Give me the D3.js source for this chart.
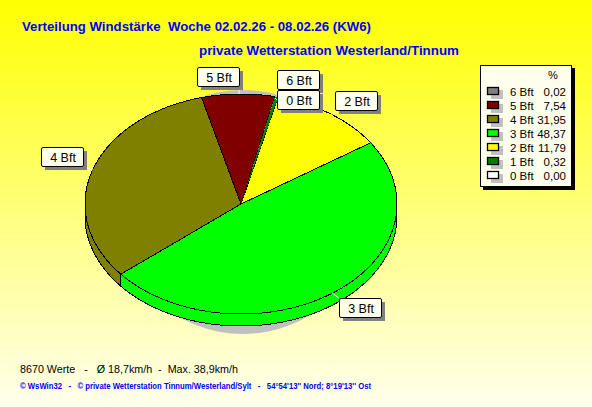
<!DOCTYPE html>
<html><head><meta charset="utf-8">
<script src="https://cdn.jsdelivr.net/npm/d3@7/dist/d3.min.js"></script>
<style>html,body{margin:0;padding:0;background:#fff}svg{display:block}text{font-family:"Liberation Sans",Arial,sans-serif;white-space:pre}</style>
</head><body><svg id="c" width="592" height="407"></svg>
<script>
const categories=["0 Bft","1 Bft","2 Bft","3 Bft","4 Bft","5 Bft","6 Bft"];
const percents=[0.00,0.32,11.79,48.37,31.95,7.54,0.02];
const percentLabels=["0,00","0,32","11,79","48,37","31,95","7,54","0,02"];
const colors=["#ffffff","#008000","#ffff00","#00ff00","#808000","#800000","#808080"];
const titleText="Verteilung Windstärke  Woche 02.02.26 - 08.02.26 (KW6)";
const subtitleText="private Wetterstation Westerland/Tinnum";
const statsText="8670 Werte   -   Ø 18,7km/h  -  Max. 38,9km/h";
const creditText="© WsWin32   -   © private Wetterstation Tinnum/Westerland/Sylt   -   54°54'13'' Nord; 8°19'13'' Ost";

const W=592,H=407,cx=241,cy=204,rx=156,ry=110,depth=12,start=12.6*Math.PI/180;
const svg=d3.select("#c");
const defs=svg.append("defs");
const g=defs.append("linearGradient").attr("id","bg").attr("x1",0).attr("y1",0).attr("x2",0).attr("y2",1);
g.append("stop").attr("offset",0).attr("stop-color","#ffff00");
g.append("stop").attr("offset",1).attr("stop-color","#ffffee");
svg.append("rect").attr("width",W).attr("height",H).attr("fill","url(#bg)");

const arcs=d3.pie().sort(null).value(d=>d).startAngle(start).endAngle(start+2*Math.PI)(percents);
const px=a=>cx+rx*Math.sin(a), py=a=>cy-ry*Math.cos(a);
const samples=(a0,a1)=>{const n=Math.max(2,Math.ceil((a1-a0)*60));return d3.range(n+1).map(i=>a0+(a1-a0)*i/n);};
const line=d3.line();

// drop shadow
svg.append("ellipse").attr("cx",243).attr("cy",212).attr("rx",125).attr("ry",122).attr("fill","#c0c0c0");
const pie=svg.append("g").attr("shape-rendering","crispEdges");

// side wall: only the front half of the ellipse
arcs.forEach((d,i)=>{
  let a0=Math.max(d.startAngle,Math.PI/2), a1=Math.min(d.endAngle,3*Math.PI/2);
  if(a1<=a0) return;
  const s=samples(a0,a1);
  const top=s.map(a=>[px(a),py(a)]);
  const bot=s.slice().reverse().map(a=>[px(a),py(a)+depth]);
  pie.append("path").attr("d",line(top.concat(bot))+"Z").attr("fill",colors[i]).attr("stroke","#000");
});
// top face: wide slices first, then slivers without an outline so their colour stays visible
const face=d=>line([[cx,cy]].concat(samples(d.startAngle,d.endAngle).map(a=>[px(a),py(a)])))+"Z";
arcs.forEach((d,i)=>{
  if(percents[i]<2) return;
  pie.append("path").attr("d",face(d)).attr("fill",colors[i]).attr("stroke","#000");
});
arcs.forEach((d,i)=>{
  if(percents[i]>=2||percents[i]<=0) return;
  pie.append("path").attr("d",face(d)).attr("fill",colors[i]);
});

// callouts
const labelBoxes={"0 Bft":[277,90],"2 Bft":[335,91],"3 Bft":[339,298],"4 Bft":[41,147],"5 Bft":[197,67],"6 Bft":[277,70]};
const leaders={"0 Bft":[[275,98],[277,100]],"2 Bft":[[331,115],[336,111]],"3 Bft":[[332,293],[339,298]],"4 Bft":[[83,167],[93,170]],"5 Bft":[[239,88],[239,94]],"6 Bft":[[275,92],[278,89]]};
const order=["5 Bft","2 Bft","3 Bft","4 Bft","6 Bft","0 Bft"];
order.forEach(k=>{
  const [x,y]=labelBoxes[k], w=42,h=19;
  const l=leaders[k];
  svg.append("line").attr("x1",l[0][0]).attr("y1",l[0][1]).attr("x2",l[1][0]).attr("y2",l[1][1]).attr("stroke","#fff");
  svg.append("rect").attr("x",x+4).attr("y",y+4).attr("width",w).attr("height",h).attr("fill","#808080");
  svg.append("rect").attr("x",x+.5).attr("y",y+.5).attr("width",w).attr("height",h).attr("rx",1.5).attr("fill","#ffffee").attr("stroke","#000");
  svg.append("text").attr("x",x+22).attr("y",y+15).attr("text-anchor","middle").attr("font-size",12.5).attr("fill","#000").text(k);
});

// legend
const lx=480,ly=65,lw=91,lh=121;
svg.append("rect").attr("x",lx+3).attr("y",ly+3).attr("width",lw+1).attr("height",lh+1).attr("fill","#000");
svg.append("rect").attr("x",lx+.5).attr("y",ly+.5).attr("width",lw).attr("height",lh).attr("fill","#ffffee").attr("stroke","#000");
svg.append("text").attr("x",553).attr("y",79).attr("text-anchor","middle").attr("font-size",11).attr("fill","#000").text("%");
const rowY=d3.scalePoint().domain(d3.range(7)).range([91,175]);
d3.range(6,-1,-1).forEach((i,r)=>{
  const y=rowY(r);
  svg.append("rect").attr("x",491).attr("y",y-1).attr("width",12).attr("height",9).attr("fill","#c0c0c0");
  svg.append("rect").attr("x",487.5).attr("y",y-3.5).attr("width",11).attr("height",7).attr("fill",colors[i]).attr("stroke","#000").attr("stroke-width",1.3);
  svg.append("text").attr("x",510).attr("y",y+4.5).attr("font-size",11.5).attr("fill","#000").text(categories[i]);
  svg.append("text").attr("x",566).attr("y",y+4.5).attr("text-anchor","end").attr("font-size",11.5).attr("fill","#000").text(percentLabels[i]);
});

// texts
const fitted=(t,x,y,len,size,weight,fill)=>svg.append("text").attr("x",x).attr("y",y).attr("font-size",size).attr("font-weight",weight).attr("fill",fill).attr("textLength",len).attr("lengthAdjust","spacingAndGlyphs").text(t);
fitted(titleText,22,31,349,12.5,"bold","#0000ff");
fitted(subtitleText,199,55,260,12.5,"bold","#0000ff");
fitted(statsText,20,373,218,11.5,"normal","#000");
fitted(creditText,20,389,351,8.3,"bold","#0000ff");
</script></body></html>
